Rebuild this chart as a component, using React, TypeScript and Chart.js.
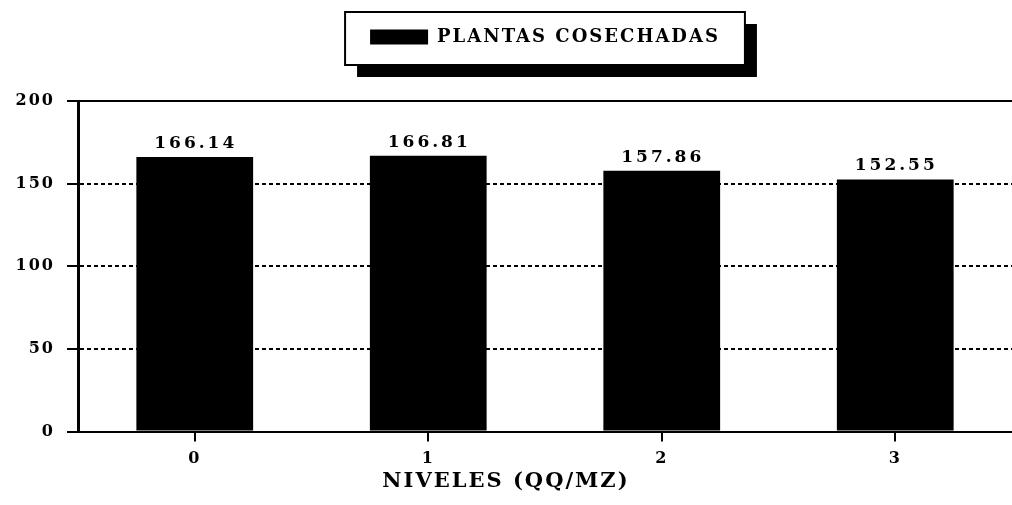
import React, { useEffect, useRef } from "react";
import { Chart, registerables } from "chart.js";

Chart.register(...registerables);

const categories = ["0", "1", "2", "3"];
const seriesLabel = "PLANTAS COSECHADAS";
const plantasCosechadas = [166.14, 166.81, 157.86, 152.55];
const yTicks = [0, 50, 100, 150, 200];
const xTitle = "NIVELES (QQ/MZ)";

const FONT = "DejaVu Serif";

const spacingPlugin = {
  id: "spacing",
  beforeLayout(chart: any) {
    chart.ctx.letterSpacing = "2px";
  },
  beforeDraw(chart: any) {
    chart.ctx.letterSpacing = "2px";
  },
};

const legendFramePlugin = {
  id: "legendFrame",
  beforeDraw(chart: any) {
    const lg = chart.legend;
    if (!lg || !lg.legendHitBoxes || !lg.legendHitBoxes.length) return;
    const hb = lg.legendHitBoxes[0];
    const l = hb.left - 25;
    const t = hb.top - 16;
    const w = hb.width + 50;
    const h = hb.height + 35;
    const ctx = chart.ctx;
    ctx.save();
    ctx.fillStyle = "#000";
    ctx.fillRect(l + 12, t + 12, w, h);
    ctx.fillStyle = "#fff";
    ctx.fillRect(l, t, w, h);
    ctx.lineWidth = 2;
    ctx.strokeStyle = "#000";
    ctx.strokeRect(l, t, w, h);
    ctx.restore();
  },
};

const valueLabelPlugin = {
  id: "valueLabels",
  afterDatasetsDraw(chart: any) {
    const ctx = chart.ctx;
    const meta = chart.getDatasetMeta(0);
    const data = chart.data.datasets[0].data as number[];
    ctx.save();
    ctx.letterSpacing = "3px";
    ctx.font = `bold 17px "${FONT}"`;
    ctx.fillStyle = "#000";
    ctx.textAlign = "center";
    ctx.textBaseline = "bottom";
    meta.data.forEach((bar: any, i: number) => {
      ctx.fillText(data[i].toFixed(2), bar.x + 1, bar.y - 5);
    });
    ctx.restore();
  },
};

export default function App() {
  const ref = useRef<HTMLCanvasElement>(null);

  useEffect(() => {
    if (!ref.current) return;
    const chart = new Chart(ref.current, {
      type: "bar",
      data: {
        labels: categories,
        datasets: [
          {
            label: seriesLabel,
            data: plantasCosechadas,
            backgroundColor: "#000",
            borderWidth: 0,
            barPercentage: 0.5,
            categoryPercentage: 1,
          },
        ],
      },
      options: {
        responsive: false,
        animation: false,
        layout: { padding: { top: 16, left: 0, right: 0, bottom: 0 } },
        plugins: {
          legend: {
            display: true,
            position: "top",
            fullSize: false,
            labels: {
              boxWidth: 58,
              boxHeight: 15,
              padding: 12,
              color: "#000",
              font: { family: FONT, size: 18, weight: "bold" },
            },
          },
          title: {
            display: true,
            position: "bottom",
            text: xTitle,
            color: "#000",
            font: { family: FONT, size: 21, weight: "bold", lineHeight: 1.2 },
            padding: { top: -8, bottom: 11 },
          },
          tooltip: { enabled: false },
        },
        scales: {
          x: {
            type: "category",
            position: "bottom",
            grid: {
              display: true,
              drawOnChartArea: false,
              drawTicks: true,
              tickLength: 10,
              offset: false,
              color: "#000",
              lineWidth: 2,
            },
            border: { display: true, color: "#000", width: 2 },
            ticks: {
              color: "#000",
              padding: 8,
              font: { family: FONT, size: 16, weight: "bold" },
            },
          },
          x2: {
            type: "category",
            position: "top",
            grid: {
              display: true,
              drawOnChartArea: false,
              drawTicks: true,
              tickLength: 45,
              color: "rgba(0,0,0,0)",
            },
            border: { display: true, color: "#000", width: 2 },
            ticks: { display: false },
          },
          y: {
            min: 0,
            max: 200,
            afterFit(scale: any) {
              scale.width = 78;
            },
            afterBuildTicks(scale: any) {
              scale.ticks = yTicks.map((v) => ({ value: v }));
            },
            grid: {
              display: true,
              drawOnChartArea: true,
              drawTicks: true,
              tickLength: 11,
              color: "#000",
              lineWidth: 2,
              tickBorderDash: [],
            },
            border: { display: true, color: "#000", width: 3, dash: [4, 3] },
            ticks: {
              color: "#000",
              padding: 12,
              font: { family: FONT, size: 16, weight: "bold" },
            },
          },
        },
      } as any,
      plugins: [spacingPlugin, legendFramePlugin, valueLabelPlugin],
    });
    return () => chart.destroy();
  }, []);

  return (
    <div style={{ position: "absolute", left: 0, top: 0, width: 1012, height: 505, background: "#fff" }}>
      <canvas ref={ref} width={1012} height={505} style={{ display: "block" }} />
    </div>
  );
}
